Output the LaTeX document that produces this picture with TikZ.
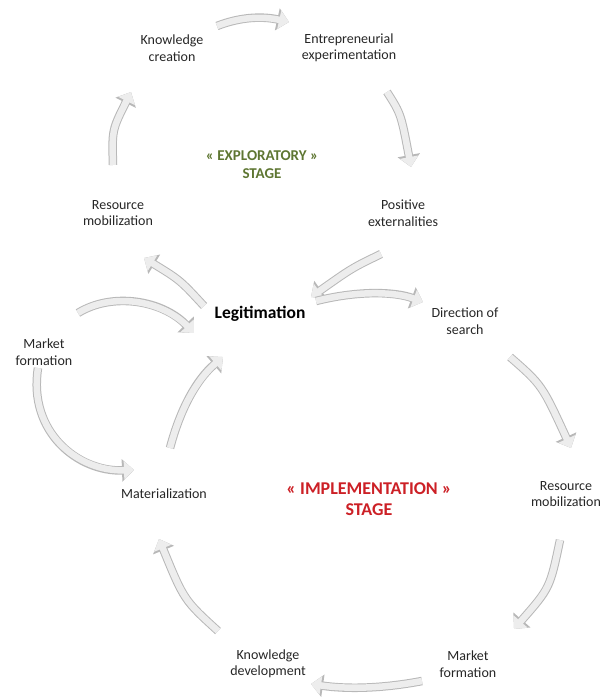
\documentclass[tikz,border=0pt]{standalone}
\usepackage{fontspec}
\setmainfont{Carlito}
\usetikzlibrary{arrows.meta,positioning}

\definecolor{explgreen}{RGB}{94,118,50}
\definecolor{implred}{RGB}{204,32,38}

\begin{document}
\begin{tikzpicture}
        [x=1pt,y=-1pt,
         factor/.style={align=center, text=black!85, font=\fontsize{14}{16.5}\selectfont},
         stage/.style={align=center, font=\bfseries\fontsize{15}{18}\selectfont},
         flow/.style={draw=black!7, line width=6.5pt, -{Triangle[length=10pt,width=18pt]},
           preaction={draw=black!28, line width=8.5pt, -{Triangle[length=12pt,width=22pt]}}}]
        \useasboundingbox (0,0) rectangle (606,700);
        %\draw[help lines,step=50] (0,0) grid (606,700);

        % exploratory loop
        \node[factor] (kc) at (172,48) {Knowledge\\creation};
        \node[factor] (ee) at (349,48) {Entrepreneurial\\experimentation};
        \node[factor] (pe) at (403,213) {Positive\\externalities};
        \node[factor] (rm1) at (118,213) {Resource\\mobilization};
        \node[stage,text=explgreen] (expl) at (262,165) {« EXPLORATORY »\\STAGE};

        % the hub
        \node[font=\bfseries\fontsize{17.5}{20}\selectfont] (leg) at (260,314) {Legitimation};

        % implementation loop
        \node[factor] (ds) at (465,321) {Direction of\\search};
        \node[factor] (rm2) at (566,494) {Resource\\mobilization};
        \node[factor] (mf2) at (468,664) {Market\\formation};
        \node[factor] (kd) at (268,664) {Knowledge\\development};
        \node[factor] (mat) at (164,494) {Materialization};
        \node[factor] (mf1) at (44,352) {Market\\formation};
        \node[stage,text=implred,font=\bfseries\fontsize{18}{21}\selectfont] (impl) at (369,499) {« IMPLEMENTATION »\\STAGE};

        % arrow ends
        \coordinate (kc-ee-a) at (217,26);
        \coordinate (kc-ee-b) at (289,22);
        \coordinate (ee-pe-a) at (387,92);
        \coordinate (ee-pe-b) at (411,167);
        \coordinate (rm1-kc-a) at (113,165);
        \coordinate (rm1-kc-b) at (131,92);
        \coordinate (pe-leg-a) at (381,254);
        \coordinate (pe-leg-b) at (311,297);
        \coordinate (leg-ds-a) at (316,301);
        \coordinate (leg-ds-b) at (423,302);
        \coordinate (leg-rm1-a) at (204,306);
        \coordinate (leg-rm1-b) at (144,258);
        \coordinate (mf1-leg-a) at (78,313);
        \coordinate (mf1-leg-b) at (194,333);
        \coordinate (mat-leg-a) at (170,448);
        \coordinate (mat-leg-b) at (223,357);
        \coordinate (mf1-mat-a) at (38,368);
        \coordinate (mf1-mat-b) at (134,470);
        \coordinate (ds-rm2-a) at (510,357);
        \coordinate (ds-rm2-b) at (571,448);
        \coordinate (rm2-mf2-a) at (560,540);
        \coordinate (rm2-mf2-b) at (514,629);
        \coordinate (mf2-kd-a) at (422,681);
        \coordinate (mf2-kd-b) at (311,684);
        \coordinate (kd-mat-a) at (218,631);
        \coordinate (kd-mat-b) at (159,539);

        \draw[flow] (kc-ee-a) .. controls (240,17) and (262,16) .. (kc-ee-b);
        \draw[flow] (ee-pe-a) .. controls (401,114) .. (ee-pe-b);
        \draw[flow] (rm1-kc-a) .. controls (112,130) .. (rm1-kc-b);
        \draw[flow] (pe-leg-a) .. controls (352,268) .. (pe-leg-b);
        \draw[flow] (leg-ds-a) .. controls (360,290) and (396,292) .. (leg-ds-b);
        \draw[flow] (leg-rm1-a) .. controls (180,280) .. (leg-rm1-b);
        \draw[flow] (mf1-leg-a) .. controls (112,292) and (162,300) .. (mf1-leg-b);
        \draw[flow] (mat-leg-a) .. controls (180,410) and (196,380) .. (mat-leg-b);
        \draw[flow] (mf1-mat-a) .. controls (28,432) and (78,472) .. (mf1-mat-b);
        \draw[flow] (ds-rm2-a) .. controls (542,385) .. (ds-rm2-b);
        \draw[flow] (rm2-mf2-a) .. controls (550,588) .. (rm2-mf2-b);
        \draw[flow] (mf2-kd-a) .. controls (380,689) and (345,689) .. (mf2-kd-b);
        \draw[flow] (kd-mat-a) .. controls (184,600) .. (kd-mat-b);
      \end{tikzpicture}
\end{document}
